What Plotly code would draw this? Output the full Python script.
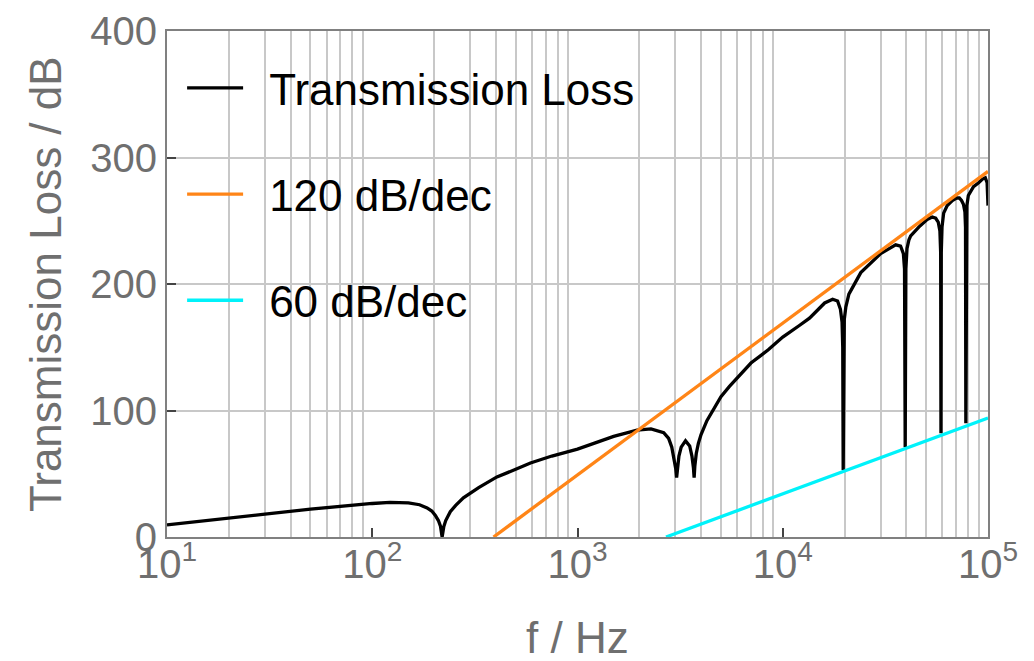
import plotly.graph_objects as go

# ---- data ----
tl_freq = [10, 15, 20, 30, 50, 70, 100, 122, 150, 170, 185, 195, 203, 210, 215, 219, 223, 228, 235, 240,
           255, 278, 330, 405, 500, 590, 750, 1000, 1250, 1500, 1950, 2280, 2630, 2780, 2880, 2960, 3010,
           3040, 3070, 3120, 3200, 3360, 3520, 3610, 3670, 3700, 3730, 3790, 3880, 4000, 4270, 4800, 5000,
           5500, 6000, 7000, 8500, 10000, 12000, 13500, 16000, 17500, 18500, 19100, 19450, 19600, 19700, 19800,
           19950, 20300, 21000, 24000, 27000, 30000, 33000, 35500, 37500, 38700, 39200, 39500, 39800, 40300,
           41200, 42000, 46000, 50500, 53500, 55600, 57200, 58300, 58800, 59000, 59200, 59700, 60800, 63300,
           67000, 70300, 72500, 74300, 75900, 77200, 77700, 78000, 78300, 78900, 80200, 85000, 90000, 94000,
           97000, 99000, 100000]
tl_values = [9.5, 12.5, 14.5, 18, 22, 24.5, 26.5, 27.3, 27, 25.5, 23, 20.5, 17, 13, 8.5, 0, 8, 13, 17.5, 20,
             25, 31, 39, 47.5, 53.5, 58.5, 64, 69.5, 75, 79.5, 84.5, 85.5, 82.5, 78, 71, 62, 54,
             47, 55, 64, 71, 76, 72, 64, 55, 47, 56, 66, 74, 81, 92, 106, 111,
             119, 126, 137.5, 148, 158, 167, 173, 185, 188, 186.5, 180, 170, 150, 53, 150,
             172, 182, 192, 209, 217, 224, 228, 231, 230, 224, 212, 71, 212, 228,
             235, 238, 245, 251, 253, 252, 249, 242, 225, 82, 225, 245, 256, 262,
             266, 268, 268, 266, 263, 257, 245, 90, 245, 262, 270, 277, 280, 283,
             284, 280, 262]

slope120_freq = [390, 100000]
slope120_values = [0, 289]

slope60_freq = [2700, 100000]
slope60_values = [0, 94]

x_tick_vals = [10, 100, 1000, 10000, 100000]
x_tick_text = ["10<sup>1</sup>", "10<sup>2</sup>", "10<sup>3</sup>", "10<sup>4</sup>", "10<sup>5</sup>"]
y_tick_vals = [0, 100, 200, 300, 400]
y_tick_text = ["0", "100", "200", "300", "400"]
minor_x = [m * 10 ** d for d in range(1, 5) for m in range(2, 10)]

FONT = "Liberation Sans, Arial, sans-serif"
GRAY = "#6f6f6f"
GAP = "\u00a0\u2009"

fig = go.Figure()
fig.add_trace(go.Scatter(x=tl_freq, y=tl_values, mode="lines", name=GAP + "Transmission Loss",
                         line=dict(color="black", width=3.3), legendgroup="a"))
fig.add_trace(go.Scatter(x=slope120_freq, y=slope120_values, mode="lines", name=GAP + "120 dB/dec",
                         line=dict(color="#ff8517", width=3.3), legendgroup="b"))
fig.add_trace(go.Scatter(x=slope60_freq, y=slope60_values, mode="lines", name=GAP + "60 dB/dec",
                         line=dict(color="#00f2fa", width=3.3), legendgroup="c"))

# page body has an 8px margin: figure is sized/offset to compensate
PW, PH = 821, 506
fig.update_layout(
    width=1026, height=653,
    margin=dict(l=159, r=46, t=23, b=124, autoexpand=False),
    plot_bgcolor="white", paper_bgcolor="white",
    font=dict(family=FONT),
    legend=dict(x=0.0184, y=0.957, xanchor="left", yanchor="top",
                font=dict(size=44, color="black", family=FONT),
                bgcolor="rgba(0,0,0,0)", tracegroupgap=46, itemwidth=56),
    annotations=[
        dict(text="f / Hz", xref="paper", yref="paper", x=0.5, y=(537 - 637) / PH,
             xanchor="center", yanchor="middle", showarrow=False,
             font=dict(size=44, color=GRAY, family=FONT)),
        dict(text="Transmission Loss / dB", xref="paper", yref="paper", x=(45 - 167) / PW, y=0.5,
             xanchor="center", yanchor="middle", showarrow=False, textangle=-90,
             font=dict(size=44, color=GRAY, family=FONT)),
    ],
)
fig.update_xaxes(
    type="log", range=[1, 5], automargin=False,
    tickmode="array", tickvals=x_tick_vals, ticktext=x_tick_text,
    tickfont=dict(size=40, color=GRAY, family=FONT),
    ticks="inside", ticklen=9, tickwidth=1.5, tickcolor="#444",
    showgrid=False, zeroline=False,
    showline=True, linecolor="#808080", linewidth=2, mirror=True,
    minor=dict(tickmode="array", tickvals=minor_x, showgrid=True, gridcolor="#c8c8c8", gridwidth=1.5, ticks=""),
)
try:
    fig.update_xaxes(ticklabelstandoff=-9)
except Exception:
    pass
fig.update_yaxes(
    range=[0, 400], automargin=False,
    tickmode="array", tickvals=y_tick_vals, ticktext=y_tick_text,
    tickfont=dict(size=40, color=GRAY, family=FONT),
    ticks="inside", ticklen=9, tickwidth=1.5, tickcolor="#444",
    showgrid=True, gridcolor="#c8c8c8", gridwidth=1.5, zeroline=False,
    showline=True, linecolor="#808080", linewidth=2, mirror=True,
)

fig.write_html("out.html")
